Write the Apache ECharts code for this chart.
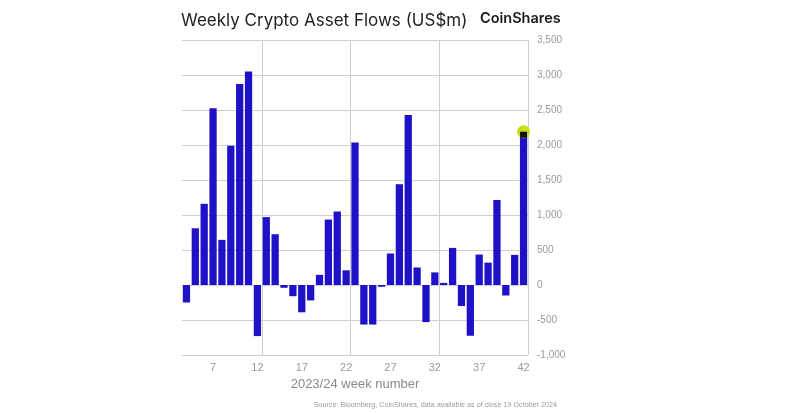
<!DOCTYPE html>
<html>
<head>
<meta charset="utf-8">
<script src="https://cdn.jsdelivr.net/npm/echarts@6/dist/echarts.min.js"></script>
<style>html,body{margin:0;padding:0;background:#fff}#c{width:800px;height:413px}</style>
</head>
<body>
<div id="c"></div>
<script>
const weeks = [4,5,6,7,8,9,10,11,12,13,14,15,16,17,18,19,20,21,22,23,24,25,26,27,28,29,30,31,32,33,34,35,36,37,38,39,40,41,42];
const flows = [-250,810,1160,2525,645,1990,2870,3050,-730,970,725,-40,-160,-390,-220,145,935,1050,210,2035,-565,-565,-25,450,1440,2430,250,-530,180,30,530,-300,-725,435,320,1215,-150,430,2190];
const yTicks = [-1000,3500,500];
const xLabelWeeks = [7,12,17,22,27,32,37,42];
const gridWeeks = [13,23,33];
const titleText = 'Weekly Crypto Asset Flows (US$m)';
const brandText = 'CoinShares';
const sourceText = 'Source: Bloomberg, CoinShares, data available as of close 19 October 2024';
const xName = '2023/24 week number';

const chart = echarts.init(document.getElementById('c'), null, {renderer:'canvas'});
const cats = weeks.map(String);
const lastIdx = weeks.length - 1;
chart.setOption({
  animation:false,
  title:[
    {text:titleText, left:176, top:7, textStyle:{fontFamily:'Inter', fontSize:17, fontWeight:'normal', color:'#222', letterSpacing:-0.2}},
    {text:brandText, left:475, top:6, textStyle:{fontFamily:'Inter', fontSize:14.5, fontWeight:600, color:'#1a1a1a', letterSpacing:-0.4}},
    {text:sourceText, right:238, top:397, textStyle:{fontFamily:'Liberation Sans', fontSize:7.2, fontWeight:'normal', color:'#9a9a9a'}}
  ],
  grid:{left:182, right:272, top:40, bottom:58, containLabel:false},
  xAxis:{
    type:'category', data:cats, boundaryGap:true,
    axisLine:{show:true, lineStyle:{color:'#cfcfcf', width:1}},
    axisTick:{show:false},
    axisLabel:{interval:(i,v)=>xLabelWeeks.includes(Number(v)), color:'#9a9a9a', fontFamily:'Liberation Sans', fontSize:11, margin:7},
    splitLine:{show:true, interval:(i,v)=>gridWeeks.includes(Number(v)), lineStyle:{color:'#cfcfcf', width:1}},
    name:xName, nameLocation:'middle', nameGap:20,
    nameTextStyle:{color:'#8a8a8a', fontFamily:'Liberation Sans', fontSize:13}
  },
  yAxis:{
    type:'value', position:'right', min:yTicks[0], max:yTicks[1], interval:yTicks[2],
    axisLine:{show:false}, axisTick:{show:false},
    axisLabel:{color:'#9a9a9a', fontFamily:'Liberation Sans', fontSize:10, margin:9,
      formatter:v=>v.toLocaleString('en-US')},
    splitLine:{show:true, lineStyle:{color:'#cfcfcf', width:1}}
  },
  series:[
    {type:'bar', data:flows, barCategoryGap:'18%', itemStyle:{color:'#1f12c6'},
     markPoint:{silent:true, data:[
       {coord:[cats[lastIdx], flows[lastIdx]], symbol:'circle', symbolSize:13, itemStyle:{color:'#c6e01c'}, label:{show:false}},
       {coord:[cats[lastIdx], flows[lastIdx]], symbol:'rect', symbolSize:[7,6], symbolOffset:[0,3], itemStyle:{color:'#111'}, label:{show:false}}
     ]}}
  ]
});
</script>
</body>
</html>
